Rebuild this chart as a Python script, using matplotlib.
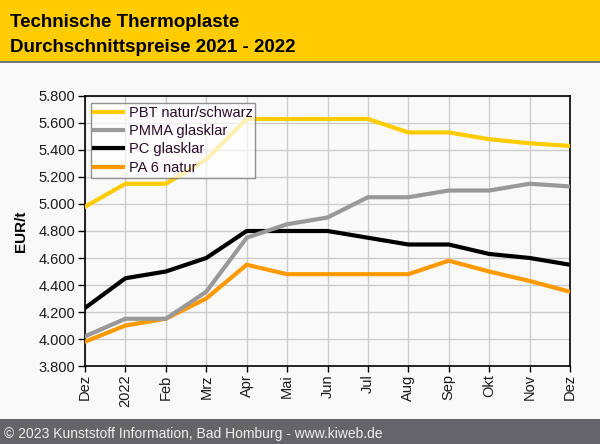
import matplotlib
matplotlib.use("Agg")
import matplotlib.pyplot as plt
from matplotlib.patches import Rectangle
from matplotlib.ticker import FuncFormatter

plt.rcParams['font.family'] = ['Liberation Sans', 'DejaVu Sans']

# Monthly average prices, EUR/t, Dez 2021 - Dez 2022
months = ["Dez", "2022", "Feb", "Mrz", "Apr", "Mai", "Jun", "Jul", "Aug", "Sep", "Okt", "Nov", "Dez"]
pbt = [4980, 5150, 5150, 5330, 5630, 5630, 5630, 5630, 5530, 5530, 5480, 5450, 5430]
pmma = [4020, 4150, 4150, 4350, 4750, 4850, 4900, 5050, 5050, 5100, 5100, 5150, 5130]
pc = [4230, 4450, 4500, 4600, 4800, 4800, 4800, 4750, 4700, 4700, 4630, 4600, 4550]
pa6 = [3980, 4100, 4150, 4300, 4550, 4480, 4480, 4480, 4480, 4580, 4500, 4430, 4350]

series_names = ["PBT natur/schwarz", "PMMA glasklar", "PC glasklar", "PA 6 natur"]
series_colors = ["#FFCC00", "#999999", "#000000", "#FF9900"]
yticks = list(range(3800, 5801, 200))

W, H = 600, 444
fig = plt.figure(figsize=(W / 100, H / 100), dpi=100, facecolor="#f9f9f9")

# header and footer bands
fig.patches.append(Rectangle((0, 1 - 61 / H), 1, 61 / H, transform=fig.transFigure,
                             facecolor="#FFCC00", edgecolor="none", zorder=0))
fig.patches.append(Rectangle((0, 1 - 63 / H), 1, 2 / H, transform=fig.transFigure,
                             facecolor="#777777", edgecolor="none", zorder=0))
fig.patches.append(Rectangle((0, 0), 1, 25 / H, transform=fig.transFigure,
                             facecolor="#646469", edgecolor="none", zorder=0))

fig.text(10 / W, 1 - 26.7 / H, "Technische Thermoplaste", fontsize=13.5,
         fontweight="bold", va="baseline", ha="left")
fig.text(10 / W, 1 - 51.5 / H, "Durchschnittspreise 2021 - 2022", fontsize=13.5,
         fontweight="bold", va="baseline", ha="left")
fig.text(4 / W, 1 - 437.5 / H, "\u00a9 2023 Kunststoff Information, Bad Homburg - www.kiweb.de",
         fontsize=10, color="#f0f0f0", va="baseline", ha="left")

ax = fig.add_axes([85 / W, (H - 366) / H, 485 / W, 270 / H])
ax.set_facecolor("#f9f9f9")

x = list(range(len(months)))
data = [pbt, pmma, pc, pa6]
lines = []
for i, (vals, name, col) in enumerate(zip(data, series_names, series_colors)):
    ln, = ax.plot(x, vals, color=col, lw=3, label=name, zorder=10 - i,
                  solid_joinstyle="miter")
    lines.append(ln)

ax.set_xlim(0, len(months) - 1)
ax.set_ylim(3800, 5800)
ax.set_xticks(x)
ax.set_xticklabels(months, rotation=90, fontsize=10.5, color="#1a1a1a")
ax.set_yticks(yticks)
ax.yaxis.set_major_formatter(FuncFormatter(lambda v, p: f"{v:,.0f}".replace(",", ".")))
ax.tick_params(axis="y", labelsize=10.5, labelcolor="#1a1a1a", length=5, width=1, pad=2)
ax.tick_params(axis="x", length=4, width=1, pad=2)
ax.grid(True, color="#cccccc", lw=1)
ax.set_axisbelow(True)
for s in ax.spines.values():
    s.set_linewidth(1.2)

fig.text(21 / W, 1 - 231 / H, "EUR/t", rotation=90, fontsize=11, fontweight="bold",
         ha="center", va="center")

leg = ax.legend(handles=lines, loc="upper left", bbox_to_anchor=(90.7 / W, 1 - 102.7 / H),
                bbox_transform=fig.transFigure, borderaxespad=0, fontsize=10.5,
                handlelength=2.0, handletextpad=0.4, labelspacing=0.3, borderpad=0.2,
                fancybox=False, framealpha=0.7, edgecolor="#666666", facecolor="white")
leg.get_frame().set_linewidth(1)
leg.set_zorder(20)
for t in leg.get_texts():
    t.set_color("#2a0a2a")

fig.savefig("out.png", dpi=100, facecolor=fig.get_facecolor())
